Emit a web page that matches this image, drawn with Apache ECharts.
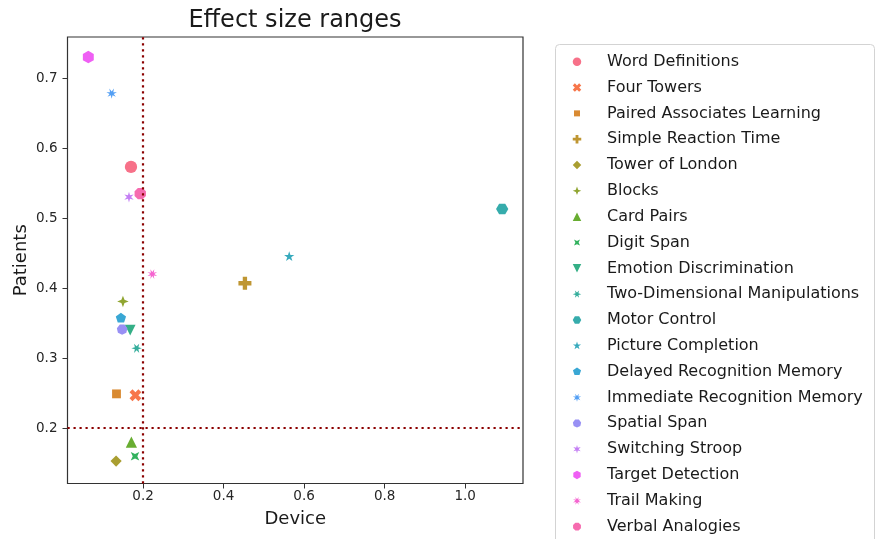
<!DOCTYPE html>
<html>
<head>
<meta charset="utf-8">
<script src="https://cdn.jsdelivr.net/npm/echarts@6/dist/echarts.min.js"></script>
<style>html,body{margin:0;padding:0;background:#fff;}#c{width:882px;height:539px;}</style>
</head>
<body>
<div id="c"></div>
<script>
// ---- data ----
const categories = ["Word Definitions","Four Towers","Paired Associates Learning","Simple Reaction Time","Tower of London","Blocks","Card Pairs","Digit Span","Emotion Discrimination","Two-Dimensional Manipulations","Motor Control","Picture Completion","Delayed Recognition Memory","Immediate Recognition Memory","Spatial Span","Switching Stroop","Target Detection","Trail Making","Verbal Analogies"];
const deviceValues  = [0.170,0.181,0.134,0.453,0.133,0.150,0.171,0.180,0.168,0.184,1.092,0.563,0.145,0.122,0.148,0.165,0.064,0.223,0.193];
const patientValues = [0.573,0.247,0.249,0.407,0.153,0.381,0.180,0.160,0.340,0.314,0.513,0.445,0.357,0.678,0.341,0.530,0.730,0.420,0.535];
const xTicks = [0.2,0.4,0.6,0.8,1.0];
const yTicks = [0.2,0.3,0.4,0.5,0.6,0.7];
const thresholdDevice = 0.2;
const thresholdPatients = 0.2;

// ---- styles ----
const markerSizes = [12.3,11.8,12.5,13,11.2,11.5,11.2,12,10.8,10.5,12.3,10.8,10.8,10.8,10.8,10.8,12.6,10.5,12.3];

// seaborn husl palette
const M = [[3.240969941904521,-1.537383177570093,-0.498610760293],[-0.96924363628087,1.87596750150772,0.041555057407175],[0.055630079696993,-0.20397695888897,1.056971514242878]];
const refU=0.19783000664283, refV=0.46831999493879, kappa=903.2962962, eps=0.0088564516;
function bounds(L){const sub1=Math.pow(L+16,3)/1560896;const sub2=sub1>eps?sub1:L/kappa;const res=[];for(let c=0;c<3;c++){const m1=M[c][0],m2=M[c][1],m3=M[c][2];for(let t=0;t<2;t++){const top1=(284517*m1-94839*m3)*sub2;const top2=(838422*m3+769860*m2+731718*m1)*L*sub2-769860*t*L;const bottom=(632260*m3-126452*m2)*sub2+126452*t;res.push([top1/bottom,top2/bottom]);}}return res;}
function maxC(L,H){const hr=H/360*Math.PI*2;let mn=Infinity;for(const b of bounds(L)){const len=b[1]/(Math.sin(hr)-b[0]*Math.cos(hr));if(len>=0)mn=Math.min(mn,len);}return mn;}
function hsluv(H,S,L){const C=maxC(L,H)/100*S;const hr=H/180*Math.PI;const U=Math.cos(hr)*C,V=Math.sin(hr)*C;const Y=L<=8?L/kappa:Math.pow((L+16)/116,3);const vu=U/(13*L)+refU,vv=V/(13*L)+refV;const X=0-(9*Y*vu)/((vu-4)*vv-vu*vv);const Z=(9*Y-15*vv*Y-vv*X)/(3*vv);const rgb=M.map(r=>r[0]*X+r[1]*Y+r[2]*Z).map(c=>c<=0.0031308?12.92*c:1.055*Math.pow(c,1/2.4)-0.055).map(c=>Math.round(Math.max(0,Math.min(1,c))*255));return 'rgb('+rgb.join(',')+')';}
const n = categories.length;
const colors = categories.map((_,i)=>{let h=(i/n+0.01)%1;return hsluv(h*359,0.9*99,0.65*99);});

// marker paths (matplotlib / seaborn default markers)
function fmt(p){return p[0].toFixed(4)+','+p[1].toFixed(4);}
function toPath(pts){return 'path://M-1,-1 M1,1 M'+pts.map(fmt).join(' L')+' Z';}
function reg(nv,star,ang){const pts=[];const N=star?2*nv:nv;for(let k=0;k<N;k++){const r=star?(k%2===0?1:0.381966):1;const th=(90+ang)*Math.PI/180+k*2*Math.PI/N;pts.push([r*Math.cos(th),-r*Math.sin(th)]);}return toPath(pts);}
const xPts=[[-1,-2],[0,-1],[1,-2],[2,-1],[1,0],[2,1],[1,2],[0,1],[-1,2],[-2,1],[-1,0],[-2,-1]].map(p=>[p[0]/2,-p[1]/2]);
const pPts=[[-1,-3],[1,-3],[1,-1],[3,-1],[3,1],[1,1],[1,3],[-1,3],[-1,1],[-3,1],[-3,-1],[-1,-1]].map(p=>[p[0]/3,-p[1]/3]);
const markers = [
  'circle', toPath(xPts), reg(4,false,45), toPath(pPts), reg(4,false,0), reg(4,true,0),
  toPath([[0,-1],[-1,1],[1,1]]), reg(4,true,45), toPath([[0,1],[-1,-1],[1,-1]]),
  reg(6,true,30), reg(6,false,30), reg(5,true,0), reg(5,false,0),
  reg(7,true,360/7/2), reg(7,false,360/7/2), reg(6,true,0), reg(6,false,0),
  reg(8,true,22.5), reg(8,false,22.5)
];

const FONT = 'DejaVu Sans';
const series = categories.map((name,i)=>({
  name: name, type: 'scatter',
  data: [[deviceValues[i], patientValues[i]]],
  symbol: markers[i], symbolSize: markerSizes[i], symbolKeepAspect: true,
  itemStyle: {color: colors[i], borderWidth: 0, opacity: 1},
  emphasis: {disabled: true}, silent: true
}));
series.push({
  type: 'scatter', name: '_thr', data: [], silent: true, z: 5,
  markLine: {
    silent: true, symbol: ['none','none'], label: {show: false}, animation: false,
    lineStyle: {color: '#8b0000', width: 2.2, type: [2.2, 3.8], cap: 'butt'},
    emphasis: {disabled: true},
    data: [{xAxis: thresholdDevice}, {yAxis: thresholdPatients}]
  }
});

const chart = echarts.init(document.getElementById('c'), null, {renderer: 'canvas'});
chart.setOption({
  animation: false,
  backgroundColor: '#ffffff',
  grid: {left: 67.5, right: 359, top: 37, bottom: 55.5, show: true, borderColor: '#333333', borderWidth: 1.2, backgroundColor: '#ffffff'},
  xAxis: {
    type: 'value', min: 0.0123, max: 1.1437,
    name: 'Device', nameLocation: 'middle', nameGap: 27, nameMoveOverlap: false,
    nameTextStyle: {fontFamily: FONT, fontSize: 18, color: '#1a1a1a'},
    axisLine: {show: false},
    axisTick: {show: true, length: 5, lineStyle: {color: '#333333', width: 1}, customValues: xTicks},
    axisLabel: {fontFamily: FONT, fontSize: 13.5, color: '#262626', margin: 6, customValues: xTicks, formatter: v => v.toFixed(1)},
    splitLine: {show: false}
  },
  yAxis: {
    type: 'value', min: 0.121, max: 0.7586,
    name: 'Patients', nameLocation: 'middle', nameGap: 37, nameMoveOverlap: false,
    nameTextStyle: {fontFamily: FONT, fontSize: 18, color: '#1a1a1a'},
    axisLine: {show: false},
    axisTick: {show: true, length: 5, lineStyle: {color: '#333333', width: 1}, customValues: yTicks},
    axisLabel: {fontFamily: FONT, fontSize: 13.5, color: '#262626', margin: 10, customValues: yTicks, formatter: v => v.toFixed(1)},
    splitLine: {show: false}
  },
  legend: {
    orient: 'vertical', left: 572.75, top: 48.8, height: 600, padding: 0, itemGap: 0,
    itemWidth: 8.5, itemHeight: 8.5, symbolKeepAspect: true, selectedMode: false,
    itemStyle: {borderWidth: 0},
    textStyle: {fontFamily: FONT, fontSize: 16, color: '#1a1a1a', lineHeight: 25.83, padding: [0,0,0,20.75]},
    data: categories.map((name,i)=>({name: name, icon: markers[i]}))
  },
  graphic: [
    {type: 'rect', z: -1, shape: {x: 555.5, y: 44.5, width: 319, height: 510, r: 4}, style: {fill: '#ffffff', stroke: '#d3d3d3', lineWidth: 1}},
    {type: 'text', x: 295, y: 21, style: {text: 'Effect size ranges', fontFamily: FONT, fontSize: 24, fill: '#1a1a1a', align: 'center', verticalAlign: 'middle'}}
  ],
  series: series
});
</script>
</body>
</html>
